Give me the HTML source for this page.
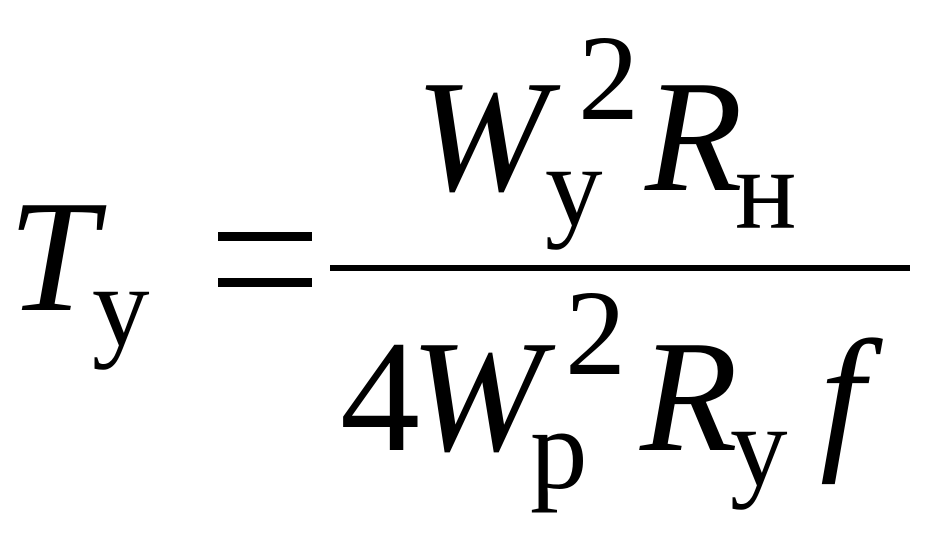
<!DOCTYPE html>
<html><head><meta charset="utf-8"><style>
html,body{margin:0;padding:0;background:#fff;}
body{width:933px;height:536px;position:relative;overflow:hidden;}
.s{position:absolute;font-family:"Liberation Serif",serif;line-height:1;color:#000;white-space:nowrap;}
.i{font-style:italic;}
.b{position:absolute;background:#000;}
</style></head><body>
<div class="s i" style="left:8px;top:176px;font-size:160px;">T</div>
<div class="s" style="left:92px;top:249px;font-size:115px;">у</div>
<div class="b" style="left:218px;top:232px;width:94px;height:9px;"></div>
<div class="b" style="left:218px;top:278px;width:94px;height:9px;"></div>
<div class="b" style="left:330px;top:265px;width:580px;height:6px;"></div>
<div class="s i" style="left:415px;top:56px;font-size:160px;">W</div>
<div class="s" style="left:545px;top:129px;font-size:115px;">у</div>
<div class="s" style="left:578px;top:18px;font-size:122px;">2</div>
<div class="s i" style="left:645px;top:56px;font-size:160px;">R</div>
<div class="s" style="left:735px;top:132px;font-size:115px;">н</div>
<div class="s" style="left:340px;top:316px;font-size:160px;">4</div>
<div class="s i" style="left:410px;top:316px;font-size:160px;">W</div>
<div class="s" style="left:565px;top:273px;font-size:122px;">2</div>
<div class="s" style="left:530px;top:392px;font-size:115px;">р</div>
<div class="s i" style="left:640px;top:316px;font-size:160px;">R</div>
<div class="s" style="left:730px;top:389px;font-size:115px;">у</div>
<div class="s i" style="left:820px;top:316px;font-size:160px;">f</div>
</body></html>
